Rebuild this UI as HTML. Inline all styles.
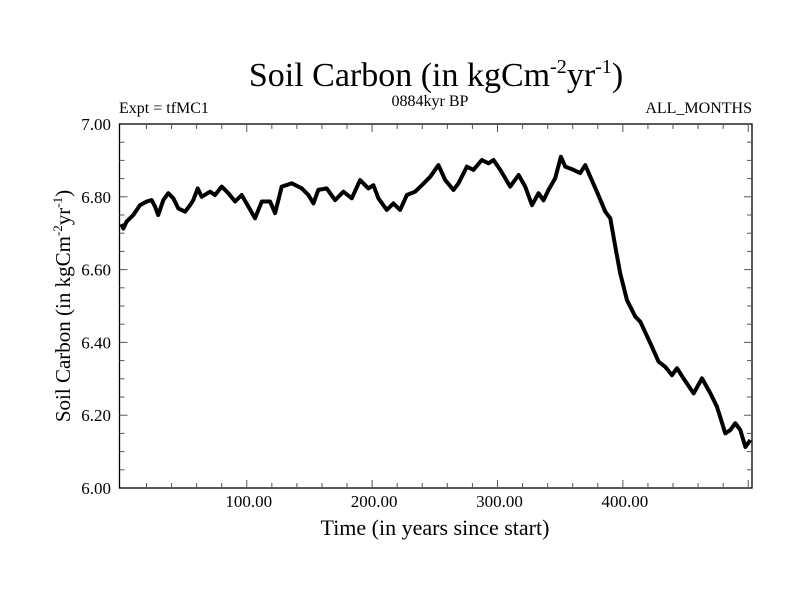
<!DOCTYPE html>
<html><head><meta charset="utf-8"><style>
html,body{margin:0;padding:0;background:#fff;}
svg{display:block;font-family:"Liberation Serif",serif;}
</style></head><body>
<svg width="800" height="600" viewBox="0 0 800 600">
<text x="436" y="86" text-anchor="middle" font-size="34">Soil Carbon (in kgCm<tspan dy="-13" font-size="20">-2</tspan><tspan dy="13">yr</tspan><tspan dy="-13" font-size="20">-1</tspan><tspan dy="13">)</tspan></text>
<text x="119" y="113" font-size="16">Expt = tfMC1</text>
<text x="430" y="106" text-anchor="middle" font-size="16">0884kyr BP</text>
<text x="752" y="113" text-anchor="end" font-size="16">ALL_MONTHS</text>
<g id="axes"></g>
<path id="series" fill="none" stroke="#000" stroke-width="4" stroke-linejoin="round"/>
<text x="435" y="535" text-anchor="middle" font-size="22">Time (in years since start)</text>
<text transform="translate(70,306) rotate(-90)" text-anchor="middle" font-size="21">Soil Carbon (in kgCm<tspan dy="-8" font-size="13">-2</tspan><tspan dy="8">yr</tspan><tspan dy="-8" font-size="13">-1</tspan><tspan dy="8">)</tspan></text>
</svg>
<script>
const years = [0,1.5,4.2,9.5,14.8,20.2,24.2,26.8,29.4,33.4,37.4,41.4,45.4,50.8,54.7,57.4,60.9,64.1,70.7,74.7,80,85.3,90.7,96,101.3,106.6,112,118.6,122.6,127.9,135.9,143.9,149.2,153.2,157.1,163.8,170.5,177.1,183.8,190.4,197,201,205,211.7,217,222.3,227.7,234.3,239.7,246.3,252.9,258.3,264.9,268.9,275.6,280.8,287.5,292.8,296.8,302.2,310.1,316.8,322.1,327.5,332.7,336.7,340.7,346,350.6,354,360.7,366,370,374,379.3,386,390,394,397.9,403.3,409.9,413.9,421.9,428.5,433.8,439.2,443.2,448.4,456.4,463.1,469.8,475.1,481.7,485.7,489.7,493.7,497.7,501.7];
const carbon = [6.725,6.713,6.732,6.75,6.777,6.787,6.791,6.773,6.75,6.791,6.81,6.796,6.768,6.759,6.777,6.791,6.823,6.8,6.814,6.805,6.828,6.81,6.787,6.805,6.773,6.741,6.787,6.787,6.755,6.828,6.837,6.823,6.805,6.782,6.819,6.823,6.791,6.814,6.796,6.846,6.823,6.832,6.796,6.764,6.782,6.764,6.805,6.814,6.832,6.855,6.887,6.846,6.819,6.837,6.883,6.874,6.901,6.892,6.901,6.874,6.828,6.86,6.828,6.777,6.81,6.79,6.819,6.851,6.91,6.883,6.874,6.865,6.887,6.855,6.814,6.759,6.741,6.663,6.59,6.516,6.471,6.457,6.398,6.347,6.333,6.31,6.329,6.301,6.26,6.301,6.26,6.223,6.15,6.159,6.178,6.159,6.113,6.132];
const yTicks = [6.00,6.20,6.40,6.60,6.80,7.00];
const xTicks = [100,200,300,400];
const X0=-1.5, X1=503, Y0=6.0, Y1=7.0;
const L=119.5, R=752, T=124, B=488;
function sx(v){return L+(v-X0)/(X1-X0)*(R-L);}
function sy(v){return B-(v-Y0)/(Y1-Y0)*(B-T);}
const NS="http://www.w3.org/2000/svg";
const g=document.getElementById('axes');
function mk(tag,attrs){const e=document.createElementNS(NS,tag);for(const k in attrs)e.setAttribute(k,attrs[k]);g.appendChild(e);return e;}
const frame=mk('rect',{x:L,y:T,width:R-L,height:B-T,fill:'none',stroke:'#000','stroke-width':1.3});


for(let v=20;v<X1;v+=20){
  const major=v%100===0;const len=major?8:5;
  const t1=mk('line',{x1:sx(v),x2:sx(v),y1:B,y2:B-len,stroke:'#555','stroke-width':1});
  
  
  const t2=mk('line',{x1:sx(v),x2:sx(v),y1:T,y2:T+len,stroke:'#555','stroke-width':1});
  
  
}
for(let i=1;i<20;i++){
  const v=Y0+i*0.05;const major=i%4===0;const len=major?8:5;
  const t1=mk('line',{x1:L,x2:L+len,y1:sy(v),y2:sy(v),stroke:'#555','stroke-width':1});
  
  
  const t2=mk('line',{x1:R,x2:R-len,y1:sy(v),y2:sy(v),stroke:'#555','stroke-width':1});
  
  
}
yTicks.forEach(v=>{
  const t=mk('text',{x:111,y:sy(v)+6,'text-anchor':'end','font-size':17});
  t.textContent=v.toFixed(2);
  
  
});
xTicks.forEach(v=>{
  const t=mk('text',{x:sx(v)+2,y:507,'text-anchor':'middle','font-size':17});
  t.textContent=v.toFixed(2);
  
  
});
let d='';
years.forEach((yr,i)=>{d+=(i?'L':'M')+sx(yr).toFixed(1)+','+sy(carbon[i]).toFixed(1);});
document.getElementById('series').setAttribute('d',d);
</script>
</body></html>
